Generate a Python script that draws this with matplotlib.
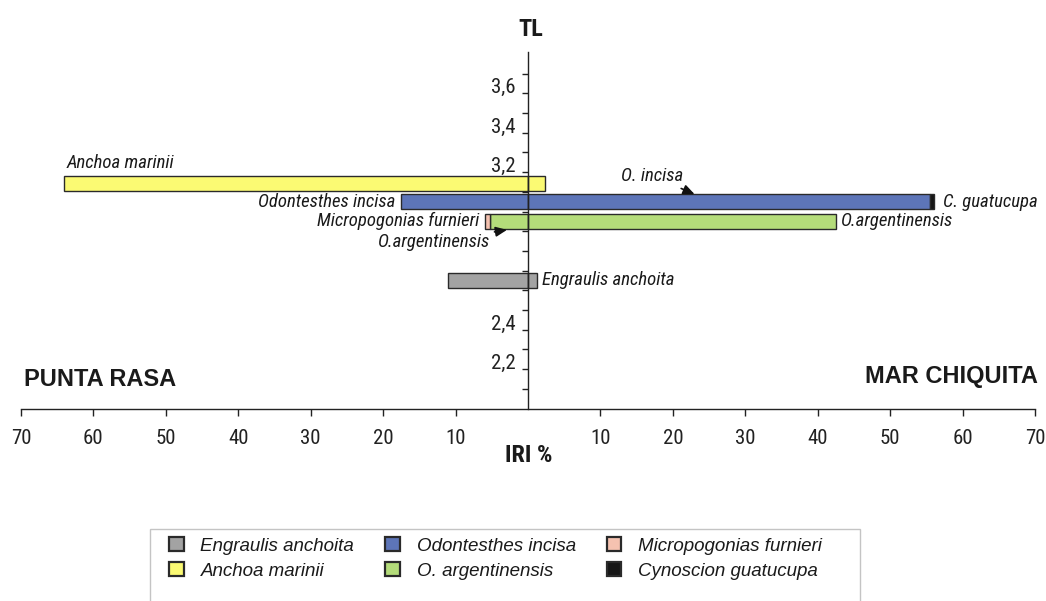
import matplotlib
matplotlib.use("Agg")
import matplotlib.pyplot as plt
from matplotlib import font_manager
from matplotlib.patches import Patch, Rectangle
from matplotlib.ticker import FuncFormatter

# ---- data -------------------------------------------------------------
# Trophic level (TL) of each prey and its IRI % at each site
species = ["Anchoa marinii", "Odontesthes incisa", "O. argentinensis", "Engraulis anchoita"]
trophic_level = [3.14, 3.05, 2.95, 2.65]
iri_punta_rasa = [64.0, 17.5, 5.2, 11.0]
iri_mar_chiquita = [2.4, 55.5, 42.5, 1.2]

# small components stacked on the end of a main bar
micropogonias_punta_rasa = 0.8   # after O. argentinensis
cynoscion_mar_chiquita = 0.5     # after O. incisa

x_ticks = [-70, -60, -50, -40, -30, -20, -10, 10, 20, 30, 40, 50, 60, 70]
y_ticks = [2.1, 2.2, 2.3, 2.4, 2.5, 2.6, 2.7, 2.8, 2.9, 3.0,
           3.1, 3.2, 3.3, 3.4, 3.5, 3.6, 3.7]
y_labelled = {2.2: "2,2", 2.4: "2,4", 3.2: "3,2", 3.4: "3,4", 3.6: "3,6"}

colors = {
    "Engraulis anchoita": "#a3a3a3",
    "Anchoa marinii": "#fbfa73",
    "Odontesthes incisa": "#5d75b8",
    "O. argentinensis": "#b4dc7a",
    "Micropogonias furnieri": "#f5c2b0",
    "Cynoscion guatucupa": "#161616",
}

# ---- fonts -------------------------------------------------------------
# a narrow sans for axis text; fall back to a smaller regular sans
_names = {f.name for f in font_manager.fontManager.ttflist}
NARROW, NS = "Liberation Sans", 0.84
for cand in ("Liberation Sans Narrow", "Arial Narrow", "Roboto Condensed",
             "Open Sans Condensed", "DejaVu Sans Condensed"):
    if cand in _names:
        NARROW, NS = cand, 1.0
        break
REG = "Liberation Sans"

fig = plt.figure(figsize=(10.46, 6.01), dpi=100)
W, H = 1046, 601
ax = fig.add_axes([21 / W, 1 - 408.5 / H, (1035 - 21) / W, (408.5 - 52) / H])
ax.set_xlim(-70, 70)
ax.set_ylim(2.0, 3.81)

bar_h = 0.076
edge = dict(edgecolor="#2a2a2a", linewidth=1.0)
for name, tl, pr, mc in zip(species, trophic_level, iri_punta_rasa, iri_mar_chiquita):
    ax.barh(tl, -pr, height=bar_h, color=colors[name], **edge, zorder=1)
    ax.barh(tl, mc, height=bar_h, color=colors[name], **edge, zorder=1)

tl_of = dict(zip(species, trophic_level))
pr_of = dict(zip(species, iri_punta_rasa))
mc_of = dict(zip(species, iri_mar_chiquita))

ax.barh(tl_of["O. argentinensis"], -micropogonias_punta_rasa, height=bar_h,
        left=-pr_of["O. argentinensis"], color=colors["Micropogonias furnieri"], **edge, zorder=1)
ax.barh(tl_of["Odontesthes incisa"], cynoscion_mar_chiquita, height=bar_h,
        left=mc_of["Odontesthes incisa"], color=colors["Cynoscion guatucupa"], **edge, zorder=1)

# ---- axes: vertical TL axis through zero, IRI axis along the bottom ------
for s in ("top", "right"):
    ax.spines[s].set_visible(False)
ax.spines["left"].set_position(("data", 0))
for s in ("left", "bottom"):
    ax.spines[s].set_linewidth(1.0)
    ax.spines[s].set_color("#222222")
    ax.spines[s].set_zorder(3)

ax.set_xticks(x_ticks)
ax.xaxis.set_major_formatter(FuncFormatter(lambda v, p: f"{abs(v):.0f}"))
ax.tick_params(axis="x", direction="out", length=5, width=1.0, pad=10,
               labelsize=15 * NS, colors="#222222")
for lab in ax.get_xticklabels():
    lab.set_fontfamily(NARROW)

ax.set_yticks(y_ticks, [y_labelled.get(round(t, 1), "") for t in y_ticks],
              va="baseline", fontfamily=NARROW)
ax.tick_params(axis="y", direction="out", length=4, width=1.0, pad=5,
               labelsize=15 * NS, colors="#222222")

# ---- species labels ------------------------------------------------------
lab_kw = dict(fontfamily=NARROW, style="italic", fontsize=13.5 * NS, color="#1a1a1a",
              textcoords="offset points")

ax.annotate("Anchoa marinii", (-pr_of["Anchoa marinii"], tl_of["Anchoa marinii"] + bar_h / 2),
            xytext=(1.5, 3), ha="left", va="bottom", **lab_kw)
ax.annotate("Odontesthes incisa", (-pr_of["Odontesthes incisa"], tl_of["Odontesthes incisa"]),
            xytext=(-4, 0), ha="right", va="center", **lab_kw)
ax.annotate("Micropogonias furnieri",
            (-pr_of["O. argentinensis"] - micropogonias_punta_rasa, tl_of["O. argentinensis"]),
            xytext=(-4, 0), ha="right", va="center", **lab_kw)
ax.annotate("C. guatucupa",
            (mc_of["Odontesthes incisa"] + cynoscion_mar_chiquita, tl_of["Odontesthes incisa"]),
            xytext=(7, 0), ha="left", va="center", **lab_kw)
ax.annotate("O.argentinensis", (mc_of["O. argentinensis"], tl_of["O. argentinensis"]),
            xytext=(3.5, 0), ha="left", va="center", **lab_kw)
ax.annotate("Engraulis anchoita", (mc_of["Engraulis anchoita"], tl_of["Engraulis anchoita"]),
            xytext=(4, 0), ha="left", va="center", **lab_kw)

arrow = dict(arrowstyle="-|>,head_length=0.5,head_width=0.22", color="#111111",
             lw=1.2, shrinkA=1, shrinkB=0)
ax.annotate("O.argentinensis", (-2.9, tl_of["O. argentinensis"] - bar_h / 2 - 0.005),
            xytext=(-12, -8.5), ha="right", va="center", arrowprops=arrow, **lab_kw)
ax.annotate("O. incisa", (23.0, tl_of["Odontesthes incisa"] + bar_h / 2),
            xytext=(-8, 13), ha="right", va="center", arrowprops=arrow, **lab_kw)

# ---- titles --------------------------------------------------------------
fig.text(531 / W, 1 - 30 / H, "TL", ha="center", va="center",
         fontfamily=NARROW, fontweight="bold", fontsize=17.5 * NS, color="#1a1a1a")
fig.text(529 / W, 1 - 456 / H, "IRI %", ha="center", va="center",
         fontfamily=NARROW, fontweight="bold", fontsize=17.5 * NS, color="#1a1a1a")
fig.text(100 / W, 1 - 380 / H, "PUNTA RASA", ha="center", va="center",
         fontfamily=REG, fontweight="bold", fontsize=17, color="#1a1a1a")
fig.text(951 / W, 1 - 377 / H, "MAR CHIQUITA", ha="center", va="center",
         fontfamily=REG, fontweight="bold", fontsize=17, color="#1a1a1a")

# ---- legend ---------------------------------------------------------------
legend_order = ["Engraulis anchoita", "Anchoa marinii", "Odontesthes incisa",
                "O. argentinensis", "Micropogonias furnieri", "Cynoscion guatucupa"]
handles = [Patch(facecolor=colors[n], edgecolor="#2a2a2a", linewidth=1.6) for n in legend_order]
fig.add_artist(Rectangle((150 / W, -0.05), (860 - 150) / W, 1 - 529 / H + 0.05,
                         transform=fig.transFigure, facecolor="none",
                         edgecolor="#c4c4c4", linewidth=1.0))
fig.legend(handles, legend_order, ncol=3, loc="upper left",
           bbox_to_anchor=(169 / W, 1 - 537 / H), frameon=False,
           borderpad=0, borderaxespad=0,
           prop=dict(family=REG, style="italic", size=13.5),
           handlelength=0.78, handleheight=0.78, handletextpad=0.9,
           columnspacing=1.65, labelspacing=0.4, labelcolor="#1a1a1a")

fig.savefig("out.png", dpi=100)
